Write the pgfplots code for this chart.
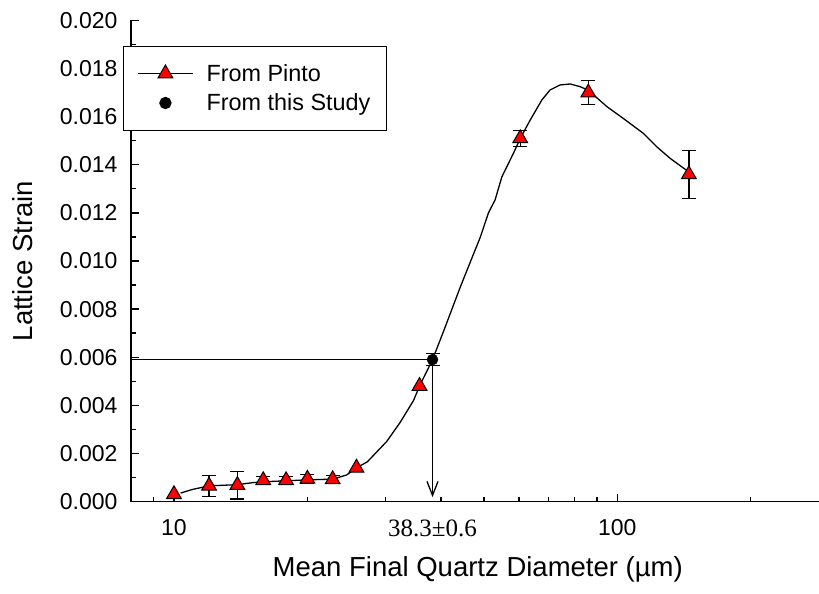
\documentclass[border=0pt]{standalone}
\usepackage{pgfplots}
\pgfplotsset{compat=1.18}
\usepackage{pgfplotstable}
\usepackage{fontspec}
\setmainfont{Liberation Sans}
\setsansfont{Liberation Sans}
\newfontfamily\seriffont{Liberation Serif}
\newfontfamily\arialfont{Liberation Sans}
\usetikzlibrary{arrows.meta}

\pgfplotsset{
  mylegimg/.style={legend image code/.code={\draw[mark repeat=2,mark phase=2,##1] plot coordinates {(0bp,0bp)(27.5bp,0bp)(55bp,0bp)};}},
}

\pgfplotstableread{
x y e
12.0 0.00065 0.00043
13.9 0.00068 0.00058
15.9 0.00088 0.00017
17.9 0.00088 0.00015
20.0 0.00094 0.00017
22.8 0.00092 0.00017
60.4 0.01510 0.00033
86.0 0.01700 0.00050
145.0 0.01360 0.00100
}\pintoerr

\pgfplotstableread{
x y
10.0 0.00030
12.0 0.00065
13.9 0.00068
15.9 0.00088
17.9 0.00088
20.0 0.00094
22.8 0.00092
25.8 0.00140
35.8 0.00480
60.4 0.01510
86.0 0.01700
145.0 0.01360
}\pinto

\pgfplotstableread{
x y e
38.3 0.0059 0.00025
}\study

\pgfplotstableread{
x y
10.35 0.00035
11.0 0.00050
12.0 0.00065
13.9 0.00070
15.0 0.00078
15.9 0.00082
17.9 0.00086
20.0 0.00090
22.8 0.00093
24.5 0.00110
25.8 0.00140
27.3 0.00165
30.2 0.00250
32.4 0.00330
34.7 0.00420
35.8 0.00480
38.3 0.00590
40.6 0.00710
44.2 0.00890
49.1 0.01100
51.2 0.01200
53.0 0.01254
54.9 0.01350
58.3 0.01448
60.4 0.01510
63.6 0.01586
67.6 0.01670
70.5 0.01711
74.3 0.01732
78.3 0.01736
82.4 0.01725
86.0 0.01710
94.7 0.01642
103.1 0.01593
114.4 0.01531
122.7 0.01475
131.5 0.01427
145.0 0.01370
}\curve

\begin{document}
\begin{tikzpicture}
\begin{axis}[
  scale only axis, width=688bp, height=481bp,
  xmode=log, xmin=8, xmax=285,
  ymin=0, ymax=0.020,
  clip=false,
  axis x line=bottom, axis y line=left,
  axis line style={-, line width=1.6bp},
  tick align=inside,
  major tick length=8bp, minor tick length=4.5bp,
  every tick/.style={black, line width=1.3bp},
  xtick={10,100},
  xticklabels={,},
  minor xtick={9,20,30,40,50,60,70,80,90,200},
  ytick={0,0.002,0.004,0.006,0.008,0.010,0.012,0.014,0.016,0.018,0.020},
  yticklabels={0.000,0.002,0.004,0.006,0.008,0.010,0.012,0.014,0.016,0.018,0.020},
  minor ytick={0.001,0.003,0.005,0.007,0.009,0.011,0.013,0.015,0.017,0.019},
  scaled y ticks=false,
  /pgf/number format/assume math mode=true,
  ticklabel style={font=\fontsize{23bp}{27bp}\selectfont},
  yticklabel style={xshift=-10bp},
  xlabel={Mean Final Quartz Diameter (µm)},
  ylabel={Lattice Strain},
  every axis x label/.style={at={(axis description cs:0.504,-0.142)}, anchor=center, font=\fontsize{27.5bp}{32bp}\selectfont},
  every axis y label/.style={at={(axis description cs:-0.157,0.5)}, rotate=90, anchor=center, font=\fontsize{27.5bp}{32bp}\selectfont},
  legend cell align=left,
  legend style={at={(rel axis cs:-0.0121,0.9476)}, anchor=north west, draw=black, line width=1.3bp,
    font=\fontsize{23.4bp}{27bp}\selectfont, inner xsep=14bp, inner ysep=16bp, row sep=7bp, column sep=11bp},
]
\addlegendimage{black, line width=1.2bp, mark=triangle*, mark size=8.5bp, mark options={fill=red, draw=black, line width=1bp}, mylegimg}
\addlegendentry{From Pinto}
\addlegendimage{black, mark=*, mark size=5.5bp, only marks, mylegimg}
\addlegendentry{From this Study}

% curve
\addplot[black, line width=1.3bp, forget plot] table[x=x, y=y] {\curve};
% guide lines
\addplot[black, line width=1.3bp, forget plot] coordinates {(8,0.0059) (38.3,0.0059)};
\addplot[black, line width=1.3bp, -{Straight Barb[length=14bp, width=11bp, line width=1.3bp]}, forget plot] coordinates {(38.3,0.0059) (38.3,0.00018)};
% error bars
\addplot[only marks, mark=none, forget plot,
  error bars/.cd, y dir=both, y explicit,
  error bar style={line width=1.3bp, black},
  error mark options={rotate=90, mark size=7bp, line width=1.3bp, black}]
  table[x=x, y=y, y error=e] {\pintoerr};
\addplot[only marks, mark=none, forget plot,
  error bars/.cd, y dir=both, y explicit,
  error bar style={line width=1.3bp, black},
  error mark options={rotate=90, mark size=7bp, line width=1.3bp, black}]
  table[x=x, y=y, y error=e] {\study};
% markers
\addplot[only marks, mark=triangle*, mark size=8.5bp, mark options={fill=red, draw=black, line width=1bp}, forget plot]
  table[x=x, y=y] {\pinto};
\addplot[only marks, mark=*, mark size=5.5bp, black, forget plot]
  table[x=x, y=y] {\study};
% x tick texts
\node[anchor=base, font=\arialfont\fontsize{23bp}{27bp}\selectfont] at (axis cs:10,0) [yshift=-34bp] {10};
\node[anchor=base, font=\arialfont\fontsize{23bp}{27bp}\selectfont] at (axis cs:100,0) [yshift=-34bp] {100};
\node[anchor=base, font=\seriffont\fontsize{25bp}{29bp}\selectfont] at (axis cs:38.3,0) [yshift=-35bp] {38.3±0.6};
\end{axis}
\pgfresetboundingbox
\path[use as bounding box] (current axis.south west) ++(-131bp,-92.5bp) rectangle ++(819bp,594bp);
\end{tikzpicture}
\end{document}
